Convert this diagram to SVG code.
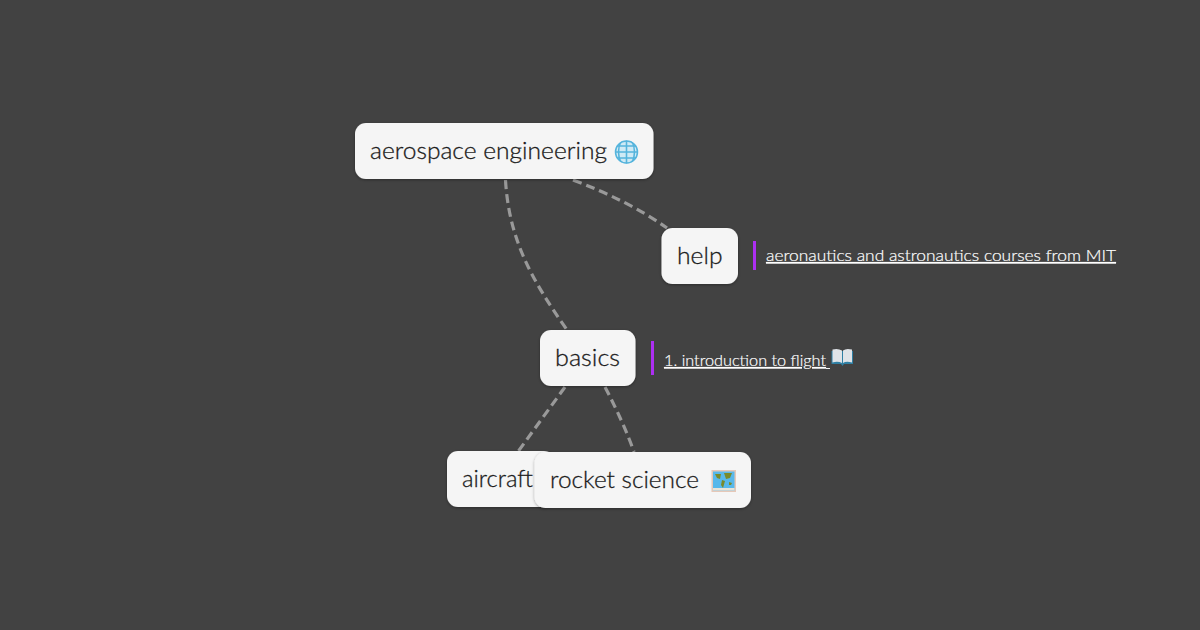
<svg xmlns="http://www.w3.org/2000/svg" width="1200" height="630" viewBox="0 0 1200 630">
<style>
.box{fill:#f5f5f5;filter:url(#sh)}
.t{font-family:"Lato","Noto Sans","Liberation Sans",sans-serif;font-weight:300;font-size:23.500px;fill:#1c1c1c;stroke:#1c1c1c;stroke-width:.3}
.n{font-family:"Lato","Noto Sans","Liberation Sans",sans-serif;font-weight:300;font-size:16.500px;fill:#fff;stroke:#fff;stroke-width:.2;text-decoration:underline}
.c{fill:none;stroke:#999;stroke-width:3.200;stroke-dasharray:9 5}
.bar{fill:#ad2ff2}
</style>
<defs>
<filter id="sh" x="-10%" y="-20%" width="120%" height="140%"><feDropShadow dx="0" dy="1" stdDeviation="1.500" flood-color="#000" flood-opacity=".35"/></filter>
<clipPath id="cg"><circle cx="626.500" cy="152" r="11.500"/></clipPath>
</defs>
<rect width="1200" height="630" fill="#424242"/>
<g id="connectors">
<path class="c" d="M505.500 180C509 240 532 280 567 330"/>
<path class="c" d="M573 180C610 194 640 209 667 228"/>
<path class="c" d="M565 387L518.500 451"/>
<path class="c" d="M605 387C617 410 627 432 634 452"/>
</g>
<g id="root">
<rect class="box" x="355" y="123" width="298.500" height="56" rx="11"/>
<text class="t" x="370" y="159" textLength="237" lengthAdjust="spacingAndGlyphs">aerospace engineering</text>
<g clip-path="url(#cg)">
<circle cx="626.500" cy="152" r="11.500" fill="#cfeaf5"/>
<path d="M615 152H638M616.500 146H636.500M616.500 158H636.500M626.500 140V164M621 141Q616 152 621 163M632 141Q637 152 632 163" fill="none" stroke="#55b4dc" stroke-width="1.600"/>
</g>
<circle cx="626.500" cy="152" r="11" fill="none" stroke="#55b4dc" stroke-width="1.500"/>
</g>
<g id="help">
<rect class="box" x="661.500" y="228" width="76.500" height="56" rx="11"/>
<text class="t" x="677" y="264" textLength="45.500" lengthAdjust="spacingAndGlyphs">help</text>
<rect class="bar" x="753" y="241" width="3" height="29"/>
<text class="n" x="766" y="261" textLength="350" lengthAdjust="spacingAndGlyphs">aeronautics and astronautics courses from MIT</text>
</g>
<g id="basics">
<rect class="box" x="540" y="330" width="95.500" height="56" rx="11"/>
<text class="t" x="555" y="366" textLength="65" lengthAdjust="spacingAndGlyphs">basics</text>
<rect class="bar" x="651" y="341" width="3" height="34"/>
<text class="n" x="664" y="366" textLength="162" lengthAdjust="spacingAndGlyphs">1. introduction to flight</text>
<rect x="826" y="368" width="4" height="1" fill="#f5f5f5"/>
<path d="M831.500 351H853V364H844L842.500 366L841 364H831.500Z" fill="#2f7fa3"/>
<path d="M832.500 349.500Q838 348 842 350.500V363Q838 361 832.500 362.500ZM852 349.500Q846 348 843 350.500V363Q846 361 852 362.500Z" fill="#dfe3e8"/>
</g>
<g id="aircraft">
<rect class="box" x="447" y="451" width="108" height="56" rx="11"/>
<text class="t" x="462" y="487" textLength="71" lengthAdjust="spacingAndGlyphs">aircraft</text>
</g>
<g id="rocket">
<rect class="box" x="534.500" y="452" width="216.500" height="56" rx="11"/>
<text class="t" x="550" y="488" textLength="149" lengthAdjust="spacingAndGlyphs">rocket science</text>
<rect x="711.500" y="470" width="24.500" height="22" fill="#e6c8b8"/>
<rect x="713" y="471.500" width="21.500" height="19" fill="#58b8ea"/>
<path d="M715 474H721L720 479L717 478ZM724 473H732L730 478L726 479ZM722 480L725 481L723 488L721 485ZM729 482L732 483L731 485L729 485Z" fill="#7a8a2a"/>
<path d="M713 488H734.500V490.500H713Z" fill="#e8e4d8"/>
</g>
</svg>
